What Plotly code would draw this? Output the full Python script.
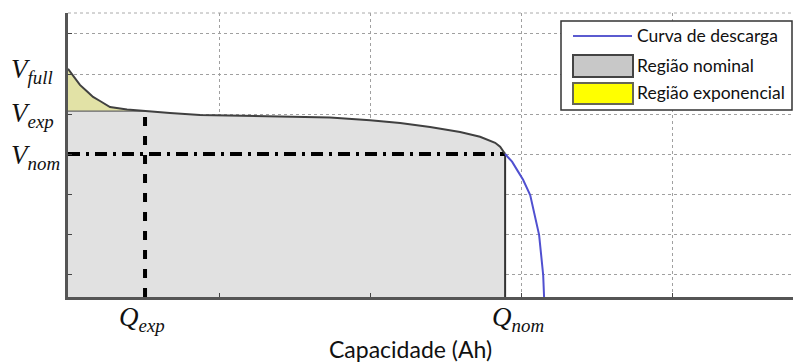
import plotly.graph_objects as go

# ---- data (units: grid step = 1) ----
cap_nominal = [0, 0.040, 0.079, 0.125, 0.166, 0.212, 0.278, 0.391, 0.51, 0.675, 0.874,
               1.205, 1.536, 1.735, 2.0, 2.199, 2.397, 2.596, 2.728, 2.828, 2.861, 2.894]
volt_nominal = [6.13, 5.93, 5.73, 5.57, 5.43, 5.33, 5.18, 5.12, 5.08, 5.03, 4.98,
                4.96, 4.93, 4.92, 4.85, 4.78, 4.68, 4.56, 4.44, 4.29, 4.19, 4.01]
cap_tail = [2.894, 2.94, 2.974, 3.013, 3.06, 3.119, 3.146, 3.152]
volt_tail = [4.01, 3.82, 3.61, 3.37, 2.99, 2.0, 1.0, 0.45]

V_full, V_exp, V_nom = 6.13, 5.08, 4.01
Q_exp, Q_nom = 0.51, 2.894
X_MIN, X_MAX = 0.0, 4.80
Y_MIN, Y_MAX = 0.452, 7.52
x_ticks = [0, 1, 2, 3, 4]
y_ticks = [1, 2, 3, 4, 5, 6, 7]

legend_labels = ["Curva de descarga", "Região nominal", "Região exponencial"]
x_title = "Capacidade (Ah)"

i_exp = cap_nominal.index(Q_exp)

fig = go.Figure()

# gray nominal region
gx = [X_MIN, X_MIN, Q_exp] + cap_nominal[i_exp:] + [Q_nom, X_MIN]
gy = [Y_MIN, V_exp, V_exp] + volt_nominal[i_exp:] + [Y_MIN, Y_MIN]
fig.add_trace(go.Scatter(x=gx, y=gy, fill="toself", fillcolor="#e1e1e1",
                         line=dict(width=0), mode="lines", hoverinfo="skip"))

# yellow exponential region
yx = cap_nominal[:i_exp + 1] + [X_MIN]
yy = volt_nominal[:i_exp + 1] + [V_exp]
fig.add_trace(go.Scatter(x=yx, y=yy, fill="toself", fillcolor="#e2e2a6",
                         line=dict(width=0), mode="lines", hoverinfo="skip"))

# Vexp boundary (top of gray in exp region)
fig.add_trace(go.Scatter(x=[X_MIN, Q_exp], y=[V_exp, V_exp], mode="lines",
                         line=dict(color="#666666", width=1.2), hoverinfo="skip"))

# Qnom vertical boundary
fig.add_trace(go.Scatter(x=[Q_nom, Q_nom], y=[Y_MIN, V_nom], mode="lines",
                         line=dict(color="#333333", width=2), hoverinfo="skip"))

# dashed guides
fig.add_trace(go.Scatter(x=[X_MIN, Q_nom], y=[V_nom, V_nom], mode="lines",
                         line=dict(color="black", width=4, dash="12px,6px,3px,6px"),
                         hoverinfo="skip"))
fig.add_trace(go.Scatter(x=[Q_exp, Q_exp], y=[Y_MIN, V_exp], mode="lines",
                         line=dict(color="black", width=4, dash="9px,10px"),
                         hoverinfo="skip"))

# discharge curve
fig.add_trace(go.Scatter(x=cap_nominal, y=volt_nominal, mode="lines",
                         line=dict(color="#404040", width=2), hoverinfo="skip"))
fig.add_trace(go.Scatter(x=cap_tail, y=volt_tail, mode="lines",
                         line=dict(color="#5050d0", width=2), hoverinfo="skip"))

# ---- pixel -> paper helpers for annotation placement ----
def px(xp):
    return (xp - 68) / 725
def py(yp):
    return (297 - yp) / 284

# ---- math labels ----
serif = dict(family="Liberation Serif", size=27, color="#111111")
for txt, v, ys in [("<i>V<sub>full</sub></i>", V_full, -2),
                   ("<i>V<sub>exp</sub></i>", V_exp, -4),
                   ("<i>V<sub>nom</sub></i>", V_nom, -3)]:
    fig.add_annotation(x=px(9), y=v, xref="paper", yref="y", text=txt, showarrow=False,
                       xanchor="left", yanchor="middle", yshift=ys, font=serif)

for txt, q, xs in [("<i>Q<sub>exp</sub></i>", Q_exp, -3), ("<i>Q<sub>nom</sub></i>", Q_nom, 13)]:
    fig.add_annotation(x=q, y=0, xref="x", yref="paper", text=txt, showarrow=False,
                       xanchor="center", yanchor="middle", xshift=xs, yshift=-22, font=serif)

fig.add_annotation(x=px(410), y=py(349), xref="paper", yref="paper", text=x_title,
                   showarrow=False, xanchor="center", yanchor="middle",
                   font=dict(family="Lato", size=23, color="#111111"))

# ---- manual legend ----
fig.add_shape(type="rect", xref="paper", yref="paper", x0=px(561), x1=px(792),
              y0=py(110), y1=py(21), fillcolor="white", line=dict(color="#333333", width=1.5))
fig.add_shape(type="line", xref="paper", yref="paper", x0=px(573), x1=px(632),
              y0=py(36), y1=py(36), line=dict(color="#5b5bd0", width=2))
fig.add_shape(type="rect", xref="paper", yref="paper", x0=px(573), x1=px(633),
              y0=py(77), y1=py(55), fillcolor="#c8c8c8", line=dict(color="#444444", width=2))
fig.add_shape(type="rect", xref="paper", yref="paper", x0=px(573), x1=px(633),
              y0=py(104), y1=py(83), fillcolor="#ffff00", line=dict(color="#666655", width=2))
for lbl, yc in zip(legend_labels, [35, 65, 93]):
    fig.add_annotation(x=px(635), y=py(yc), xref="paper", yref="paper", text=lbl,
                       showarrow=False, xanchor="left", yanchor="middle",
                       font=dict(family="Lato", size=17.5, color="#111111"))

# top border (dotted)
fig.add_shape(type="line", xref="paper", yref="paper", x0=0, x1=1, y0=1, y1=1,
              line=dict(color="#aaaaaa", width=1, dash="dot"))

fig.update_layout(
    width=793, height=363,
    margin=dict(l=68, r=0, t=13, b=66),
    paper_bgcolor="white", plot_bgcolor="white",
    showlegend=False,
)
fig.update_xaxes(range=[X_MIN, X_MAX], tickvals=x_ticks, showticklabels=False,
                 showgrid=True, gridcolor="#a0a0a0", griddash="dot", gridwidth=1,
                 zeroline=False, showline=True, linecolor="#555555", linewidth=2.5,
                 ticks="inside", ticklen=4, tickcolor="#444444", layer="above traces")
fig.update_yaxes(range=[Y_MIN, Y_MAX], tickvals=y_ticks, showticklabels=False,
                 showgrid=True, gridcolor="#a0a0a0", griddash="dot", gridwidth=1,
                 zeroline=False, showline=True, linecolor="#555555", linewidth=2.5,
                 ticks="inside", ticklen=4, tickcolor="#444444", layer="above traces")

fig.write_html("out.html")
